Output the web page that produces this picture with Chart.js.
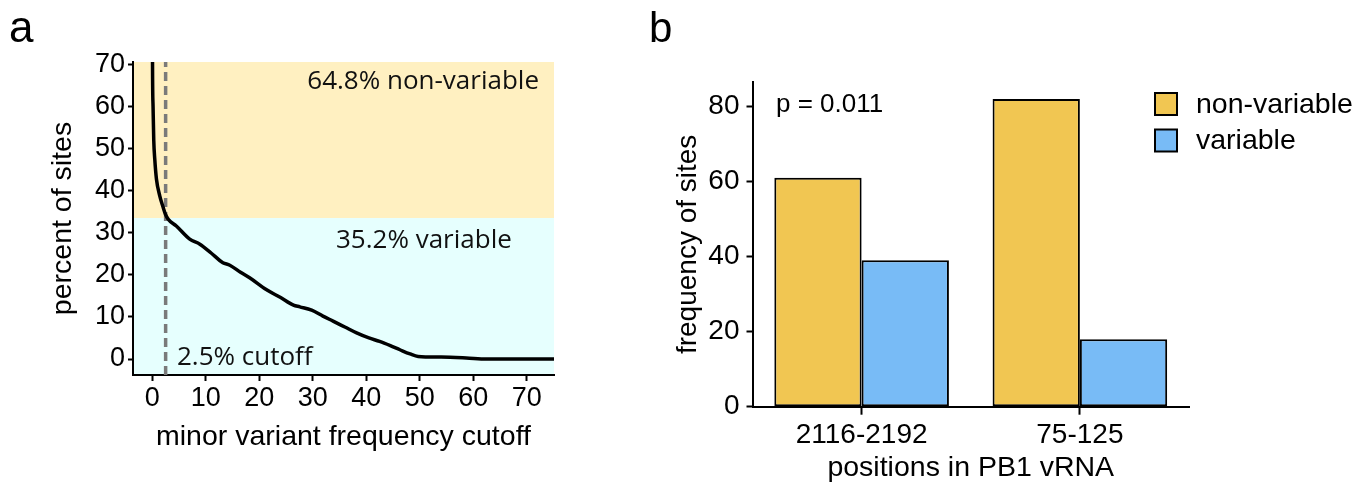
<!DOCTYPE html>
<html>
<head>
<meta charset="utf-8">
<script src="https://cdn.jsdelivr.net/npm/chart.js@4.4.1/dist/chart.umd.min.js"></script>
<style>
  html, body { margin: 0; padding: 0; background: #fff; width: 1356px; height: 482px; overflow: hidden; }
  canvas { position: absolute; top: 0; }
  #chartA { left: 0; }
  #chartB { left: 640px; }
</style>
</head>
<body>
<canvas id="chartA" width="600" height="482"></canvas>
<canvas id="chartB" width="716" height="482"></canvas>
<script>
// panel a - percent of sites above each minor variant frequency cutoff
const freqCutoff = [0, 0.05, 0.15, 0.28, 0.47, 0.78, 1.4, 2.0, 2.5, 3.0, 4.5, 7.0, 8.9, 11, 13.2, 14.5, 16.5, 18.2, 21.3, 24, 26.4, 27.6, 29.8, 31.9, 33.8, 36, 38.2, 40.5, 42.5, 44.5, 46.3, 48.2, 49.7, 54, 58.7, 62.5, 76];
const percentSites = [100, 70, 60, 52, 47.5, 42.8, 38.8, 36.2, 34.3, 33.2, 31.6, 28.5, 27.3, 25.2, 22.9, 22.3, 20.6, 19.3, 16.5, 14.6, 12.8, 12.4, 11.6, 10.2, 9.0, 7.6, 6.2, 5.0, 4.2, 3.2, 2.2, 1.2, 0.6, 0.45, 0.24, 0, 0];
const cutoff = 2.5;
const variableShare = 33.5;
const aXTicks = [0, 10, 20, 30, 40, 50, 60, 70];
const aYTicks = [0, 10, 20, 30, 40, 50, 60, 70];
const aXRange = [-3.6, 75.1];
const aYRange = [-3.8, 70.6];

// panel b - counts per region
const positions = ['2116-2192', '75-125'];
const nonVariable = [61, 82];
const variable = [39, 18];
const bYTicks = [0, 20, 40, 60, 80];

Chart.defaults.font.family = '"Liberation Sans", Arial, sans-serif';
Chart.defaults.color = '#000';

const setTicks = (list) => (scale) => { scale.ticks = list.map(v => ({ value: v })); };

const shadeBands = {
    id: 'shadeBands',
    beforeDraw(chart) {
        const { ctx, chartArea: { left, right, top, bottom }, scales: { y } } = chart;
        const split = y.getPixelForValue(variableShare);
        ctx.save();
        ctx.fillStyle = '#FFF0C1';
        ctx.fillRect(left, top, right - left, split - top);
        ctx.fillStyle = '#E6FFFE';
        ctx.fillRect(left, split, right - left, bottom - split);
        ctx.restore();
    }
};

const notesA = {
    id: 'notesA',
    afterDraw(chart) {
        const { ctx } = chart;
        ctx.save();
        ctx.fillStyle = '#111';
        ctx.font = '26px "Open Sans"';
        ctx.textAlign = 'right';
        ctx.fillText('64.8% non-variable', 539, 89);
        ctx.textAlign = 'left';
        ctx.fillText('35.2% variable', 336, 248);
        ctx.fillText('2.5% cutoff', 177, 365);
        ctx.fillStyle = '#000';
        ctx.font = '44px "Liberation Sans"';
        ctx.fillText('a', 9, 42);
        ctx.restore();
    }
};

new Chart(document.getElementById('chartA'), {
    type: 'line',
    plugins: [shadeBands, notesA],
    data: {
        datasets: [
            {
                data: freqCutoff.map((x, i) => ({ x, y: percentSites[i] })),
                borderColor: '#000',
                borderWidth: 3.5,
                pointRadius: 0,
                cubicInterpolationMode: 'monotone'
            },
            {
                data: [{ x: cutoff, y: aYRange[0] }, { x: cutoff, y: aYRange[1] }],
                borderColor: '#7a7a7a',
                borderWidth: 3.5,
                borderDash: [9, 5],
                pointRadius: 0
            }
        ]
    },
    options: {
        responsive: false,
        animation: false,
        devicePixelRatio: 1,
        layout: { padding: { top: 62, right: 46, left: 0, bottom: 0 } },
        plugins: { legend: { display: false }, tooltip: { enabled: false } },
        scales: {
            x: {
                type: 'linear',
                min: aXRange[0], max: aXRange[1],
                afterBuildTicks: setTicks(aXTicks),
                afterFit: (s) => { s.height = 107; },
                grid: { drawOnChartArea: false, tickLength: 6, tickWidth: 2, tickColor: '#000' },
                border: { color: '#000', width: 2 },
                ticks: { font: { size: 27 }, padding: 1, maxRotation: 0 },
                title: { display: true, text: 'minor variant frequency cutoff', font: { size: 28.5, lineHeight: 1.2 }, padding: { top: 0, bottom: 28 } }
            },
            y: {
                min: aYRange[0], max: aYRange[1],
                afterBuildTicks: setTicks(aYTicks),
                afterFit: (s) => { s.width = 133; },
                grid: { drawOnChartArea: false, tickLength: 5, tickWidth: 2, tickColor: '#000' },
                border: { color: '#000', width: 2 },
                ticks: { font: { size: 27 }, padding: 3 },
                title: { display: true, text: 'percent of sites', font: { size: 28.5, lineHeight: 1.2 }, padding: { top: 46, bottom: 0 } }
            }
        }
    }
});

const notesB = {
    id: 'notesB',
    afterDraw(chart) {
        const { ctx } = chart;
        ctx.save();
        ctx.fillStyle = '#000';
        ctx.font = '26px "Liberation Sans"';
        ctx.textAlign = 'left';
        ctx.fillText('p = 0.011', 136, 112);
        // legend
        ctx.font = '28.5px "Liberation Sans"';
        ctx.textBaseline = 'middle';
        chart.data.datasets.forEach((ds, i) => {
            const top = 93 + i * 36.5;
            ctx.fillStyle = ds.backgroundColor;
            ctx.fillRect(515, top, 22, 22);
            ctx.lineWidth = 2;
            ctx.strokeStyle = '#000';
            ctx.strokeRect(515, top, 22, 22);
            ctx.fillStyle = '#000';
            ctx.fillText(ds.label, 556, top + 12);
        });
        ctx.textBaseline = 'alphabetic';
        ctx.font = '42px "Liberation Sans"';
        ctx.fillText('b', 9, 42);
        ctx.restore();
    }
};

new Chart(document.getElementById('chartB'), {
    type: 'bar',
    plugins: [notesB],
    data: {
        labels: positions,
        datasets: [
            { label: 'non-variable', data: nonVariable, backgroundColor: '#F1C652', borderColor: '#000', borderWidth: 2, borderSkipped: false },
            { label: 'variable', data: variable, backgroundColor: '#78BBF6', borderColor: '#000', borderWidth: 2, borderSkipped: false }
        ]
    },
    options: {
        responsive: false,
        animation: false,
        devicePixelRatio: 1,
        layout: { padding: { top: 82, right: 167, left: 0, bottom: 0 } },
        datasets: { bar: { categoryPercentage: 0.8, barPercentage: 1 } },
        plugins: { legend: { display: false }, tooltip: { enabled: false } },
        scales: {
            x: {
                afterFit: (s) => { s.height = 75.3; },
                grid: { drawOnChartArea: false, offset: false, tickLength: 8, tickWidth: 2, tickColor: '#000' },
                border: { color: '#000', width: 2 },
                ticks: { font: { size: 28 }, padding: 4 },
                title: { display: true, text: 'positions in PB1 vRNA', font: { size: 28.5, lineHeight: 1 }, padding: { top: 0, bottom: 0 } }
            },
            y: {
                min: 0, max: 86.5,
                afterBuildTicks: setTicks(bYTicks),
                afterFit: (s) => { s.width = 112.5; },
                grid: { drawOnChartArea: false, tickLength: 6, tickWidth: 2, tickColor: '#000' },
                border: { color: '#000', width: 2 },
                ticks: { font: { size: 28 }, padding: 7 },
                title: { display: true, text: 'frequency of sites', font: { size: 28, lineHeight: 1.2 }, padding: { top: 31, bottom: 0 } }
            }
        }
    }
});
</script>
</body>
</html>
